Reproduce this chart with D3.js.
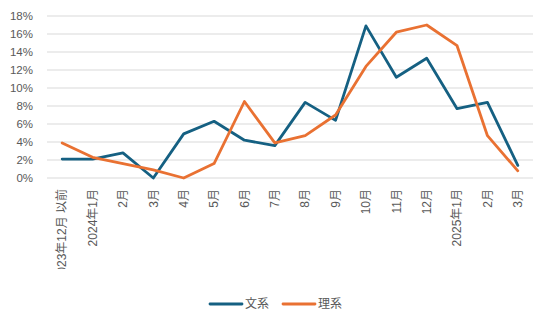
<!DOCTYPE html>
<html>
<head>
<meta charset="utf-8">
<script src="https://cdn.jsdelivr.net/npm/d3@7"></script>
<style>
  html, body { margin: 0; padding: 0; background: #fff; }
  svg { display: block; }
  text { font-family: "Liberation Sans", "Noto Sans CJK JP", sans-serif; fill: #595959; }
</style>
</head>
<body>
<svg id="chart" width="550" height="327"></svg>
<script>
// Monthly share (%) by track
const months = ["2023年12月 以前", "2024年1月", "2月", "3月", "4月", "5月", "6月", "7月",
                "8月", "9月", "10月", "11月", "12月", "2025年1月", "2月", "3月"];
const bunkei = [2.1, 2.1, 2.8, 0.0, 4.9, 6.3, 4.2, 3.6, 8.4, 6.4, 16.9, 11.2, 13.3, 7.7, 8.4, 1.4];
const rikei  = [3.9, 2.3, 1.6, 0.9, 0.0, 1.6, 8.5, 3.9, 4.7, 7.0, 12.4, 16.2, 17.0, 14.7, 4.7, 0.8];
const yTicks = [0, 2, 4, 6, 8, 10, 12, 14, 16, 18];
const seriesNames = ["文系", "理系"];
const seriesColors = ["#156082", "#E97132"];

const svg = d3.select("#chart");
const plotLeft = 47, plotRight = 533, plotTop = 16, plotBottom = 178;

const x = d3.scaleBand().domain(d3.range(months.length)).range([plotLeft, plotRight]);
const y = d3.scaleLinear().domain([0, 18]).range([plotBottom, plotTop]);

// horizontal gridlines
svg.append("g")
  .selectAll("line")
  .data(yTicks)
  .join("line")
  .attr("x1", plotLeft).attr("x2", plotRight)
  .attr("y1", d => y(d)).attr("y2", d => y(d))
  .attr("stroke", "#D9D9D9").attr("stroke-width", 1);

// y-axis labels
const yAxis = d3.axisLeft(y).tickValues(yTicks).tickFormat(d => d + "%").tickSize(0).tickPadding(0);
svg.append("g")
  .attr("transform", `translate(${plotLeft - 14},0)`)
  .call(yAxis)
  .call(g => g.attr("font-family", null))
  .call(g => g.select(".domain").remove())
  .call(g => g.selectAll("text")
    .attr("font-size", 11.5).attr("fill", "#595959"));

// x-axis labels, rotated, clipped at the chart edge
svg.append("defs").append("clipPath").attr("id", "xclip")
  .append("rect").attr("x", 0).attr("y", 180).attr("width", 550).attr("height", 89);

const xAxis = d3.axisBottom(x).tickFormat(i => months[i]).tickSize(0).tickPadding(0);
svg.append("g")
  .attr("clip-path", "url(#xclip)")
  .append("g")
  .attr("transform", `translate(0,${plotBottom})`)
  .call(xAxis)
  .call(g => g.attr("font-family", null))
  .call(g => g.select(".domain").remove())
  .call(g => g.selectAll("text")
    .attr("font-size", 12).attr("fill", "#595959")
    .attr("text-anchor", "end")
    .attr("transform", "rotate(-90)")
    .attr("x", -11).attr("y", 0).attr("dy", "0.35em"));

// lines
const line = d3.line()
  .x((d, i) => x(i) + x.bandwidth() / 2)
  .y(d => y(d));

[bunkei, rikei].forEach((vals, k) => {
  svg.append("path")
    .datum(vals)
    .attr("d", line)
    .attr("fill", "none")
    .attr("stroke", seriesColors[k])
    .attr("stroke-width", 2.8)
    .attr("stroke-linejoin", "round")
    .attr("stroke-linecap", "round");
});

// legend
const legend = svg.append("g").attr("transform", "translate(210,304)");
const legendX = [0, 73];
seriesNames.forEach((name, k) => {
  const g = legend.append("g").attr("transform", `translate(${legendX[k]},0)`);
  g.append("line").attr("x1", 0).attr("x2", 32).attr("y1", 0).attr("y2", 0)
    .attr("stroke", seriesColors[k]).attr("stroke-width", 2.8).attr("stroke-linecap", "round");
  g.append("text").attr("x", 35).attr("y", 0).attr("dy", "0.35em")
    .attr("font-size", 12).text(name);
});
</script>
</body>
</html>
